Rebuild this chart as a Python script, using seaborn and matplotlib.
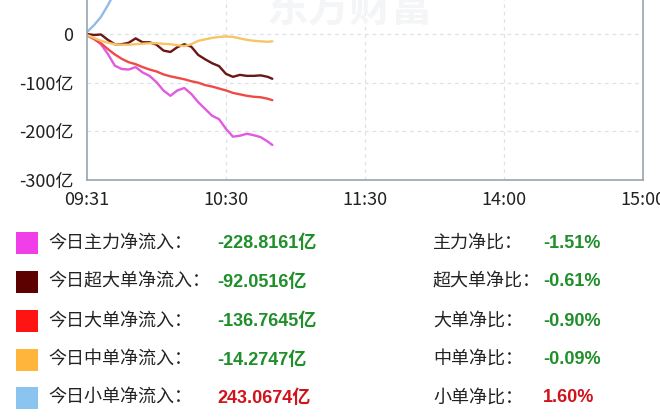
import matplotlib

matplotlib.use("Agg")

import matplotlib.pyplot as plt
import pandas as pd
import seaborn as sns
from matplotlib.patches import Rectangle

# minutes after 09:31 (0 = 09:31, 60 = 10:30, 120 = 11:30, 180 = 14:00, 240 = 15:00)
minutes = [0, 3, 6, 9, 12, 15, 18, 21, 24, 27, 30, 33, 36, 39, 42, 45, 48, 51,
           54, 57, 60, 63, 66, 69, 72, 75, 78, 80]

main_flow = [-2, -10, -21, -41, -65, -72, -73, -68, -79, -86, -99, -116, -127, -116,
             -111, -123, -140, -154, -168, -175, -195, -211, -209, -205, -208, -212,
             -221, -228]
xl_flow = [0, -2, -1, -12, -21, -21, -18, -9, -17, -17, -22, -34, -37, -27, -21, -26,
           -43, -52, -60, -66, -82, -88, -84, -86, -86, -85, -88, -92]
large_flow = [-3, -10, -19, -31, -42, -51, -58, -62, -68, -73, -77, -83, -87, -90, -93,
              -97, -100, -105, -108, -112, -116, -121, -124, -127, -129, -130, -133, -136]
mid_flow = [-2, -8, -14, -18, -21, -22, -22, -21, -20, -19, -19, -20, -21, -23, -25, -21,
            -14, -11, -8, -6, -5, -6, -9, -12, -14, -15, -16, -15]
small_flow = [4, 18, 35, 59, 86, 94, 95, 89, 99, 105, 118, 136, 148, 139, 136, 144, 154,
              165, 176, 181, 200, 217, 218, 217, 222, 227, 237, 243]

series_names = ["主力", "超大单", "大单", "中单", "小单"]
series_values = [main_flow, xl_flow, large_flow, mid_flow, small_flow]
line_colors = ["#e25ae0", "#6b1616", "#ee4a46", "#f7c466", "#8ebde6"]
box_colors = ["#f03ee8", "#5c0000", "#ff1414", "#ffb43c", "#8cc4f0"]

tick_positions = [0, 60, 120, 180, 240]
tick_labels = ["09:31", "10:30", "11:30", "14:00", "15:00"]
y_ticks = [0, -100, -200, -300]
y_tick_labels = ["0", "-100亿", "-200亿", "-300亿"]

legend_labels = ["今日主力净流入：", "今日超大单净流入：", "今日大单净流入：",
                 "今日中单净流入：", "今日小单净流入："]
legend_values = ["-228.8161亿", "-92.0516亿", "-136.7645亿", "-14.2747亿", "243.0674亿"]
ratio_labels = ["主力净比：", "超大单净比：", "大单净比：", "中单净比：", "小单净比："]
ratio_values = ["-1.51%", "-0.61%", "-0.90%", "-0.09%", "1.60%"]

sns.set_theme(style="white")
plt.rcParams["font.family"] = ["Noto Sans CJK SC", "DejaVu Sans"]

W, H = 660, 418
fig = plt.figure(figsize=(W / 100, H / 100), dpi=100)
fig.patch.set_facecolor("white")

# axes: left 87px, right 643px, bottom 180px; top lies above the figure (clipped)
px_per_unit = (180 - 34) / 300
top_px = 34 - 300 * px_per_unit
ax = fig.add_axes([87 / W, (H - 180) / H, (643 - 87) / W, (180 - top_px) / H])
ax.set_facecolor("white")

long_df = pd.concat(
    [pd.DataFrame({"minute": minutes, "value": vals, "series": name})
     for name, vals in zip(series_names, series_values)],
    ignore_index=True,
)
sns.lineplot(data=long_df, x="minute", y="value", hue="series",
             palette=dict(zip(series_names, line_colors)), legend=False,
             linewidth=1.7, ax=ax)

ax.set_xlim(0, 240)
ax.set_ylim(-300, 300)
ax.set_xticks(tick_positions)
ax.set_xticklabels(tick_labels)
ax.set_yticks(y_ticks)
ax.set_yticklabels(y_tick_labels)
ax.set_xlabel("")
ax.set_ylabel("")
ax.tick_params(axis="both", length=0, labelsize=13, colors="#222222")
ax.tick_params(axis="x", pad=8)
ax.tick_params(axis="y", pad=10)
for g in [100, 0, -100, -200]:
    ax.axhline(g, color="#dce2e9", linewidth=0.9, linestyle=(0, (3, 3)), zorder=0)
for g in [60, 120, 180]:
    ax.axvline(g, color="#dce2e9", linewidth=0.9, linestyle=(0, (3, 3)), zorder=0)
for side in ["left", "bottom", "right"]:
    ax.spines[side].set_color("#9aa3ad")
    ax.spines[side].set_linewidth(1.2)
ax.spines["top"].set_visible(False)

# very faint watermark at the top, cut by the image edge as in the source
fig.text(350 / W, 1 - 8 / H, "东方财富", fontsize=30, fontweight="bold",
         color="#f4f5f7", ha="center", va="center", zorder=0)

# legend / summary block
row_y = [243, 282, 321, 360, 398]
num_font = ["Liberation Sans", "Noto Sans CJK SC"]
for i, y in enumerate(row_y):
    fy = 1 - y / H
    fig.add_artist(Rectangle((16 / W, 1 - (y + 11) / H), 22 / W, 22 / H,
                             transform=fig.transFigure, facecolor=box_colors[i],
                             edgecolor="none"))
    fig.text(48 / W, fy, legend_labels[i], fontsize=13, color="#222222",
             va="center", ha="left")
    val_color = "#d0121b" if not legend_values[i].startswith("-") else "#1f8f2a"
    fig.text(217 / W, fy, legend_values[i], fontsize=13, fontweight="bold",
             color=val_color, va="center", ha="left", family=num_font)
    fig.text(433 / W, fy, ratio_labels[i], fontsize=13, color="#222222",
             va="center", ha="left")
    r_color = "#d0121b" if not ratio_values[i].startswith("-") else "#1f8f2a"
    fig.text(543 / W, fy, ratio_values[i], fontsize=13, fontweight="bold",
             color=r_color, va="center", ha="left", family=num_font)

fig.savefig("out.png", dpi=100)
plt.close(fig)
